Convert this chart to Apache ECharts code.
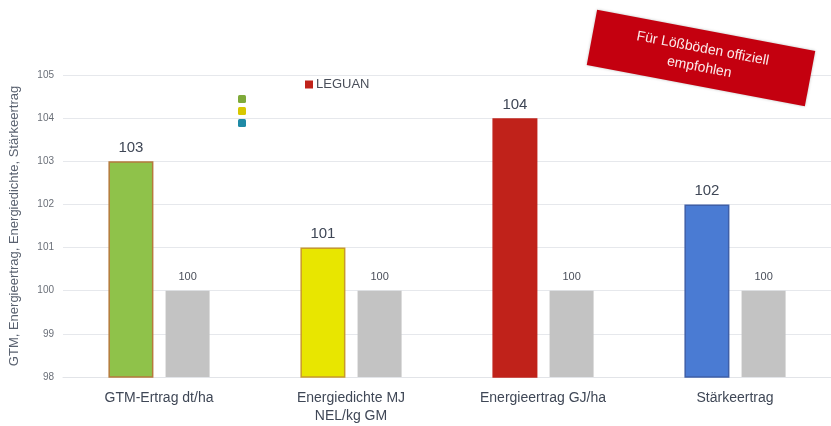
<!DOCTYPE html>
<html>
<head>
<meta charset="utf-8">
<script src="https://cdn.jsdelivr.net/npm/echarts@6/dist/echarts.min.js"></script>
<style>
html,body{margin:0;padding:0;background:#fff;}
#chart{width:831px;height:426px;}
</style>
</head>
<body>
<div id="chart"></div>
<script>
const categories = ['GTM-Ertrag dt/ha', 'Energiedichte MJ\nNEL/kg GM', 'Energieertrag GJ/ha', 'Stärkeertrag'];
const leguanValues = [103, 101, 104, 102];
const referenceValues = [100, 100, 100, 100];
const yTicks = { min: 98, max: 105, interval: 1 };
const seriesName = 'LEGUAN';
const yAxisTitle = 'GTM, Energieertrag, Energiedichte, Stärkeertrag';
const stampText = 'Für Lößböden offiziell\nempfohlen';

const barColors = ['#8fc24a', '#e8e600', '#c0221a', '#4a7bd3'];
const barBorders = ['#b57a3c', '#c89a2a', '#c0221a', '#3e5fa8'];

const chart = echarts.init(document.getElementById('chart'));
chart.setOption({
  animation: false,
  backgroundColor: '#ffffff',
  grid: { left: 62, top: 75, width: 780, bottom: 49, containLabel: false },
  legend: {
    data: [{ name: seriesName, itemStyle: { color: '#c0221a' } }],
    left: 300, top: 73,
    itemWidth: 8, itemHeight: 8, itemGap: 4,
    icon: 'rect',
    textStyle: { color: '#4a4f5a', fontSize: 13, fontFamily: 'Liberation Sans, Arial, sans-serif', padding: [0, 0, 0, -2] }
  },
  xAxis: {
    type: 'category',
    data: categories,
    axisLine: { show: true, lineStyle: { color: '#e2e4e8' } },
    axisTick: { show: false },
    axisLabel: { color: '#3f4756', fontSize: 14, lineHeight: 18, margin: 12, fontFamily: 'Liberation Sans, Arial, sans-serif' }
  },
  yAxis: {
    type: 'value',
    min: yTicks.min, max: yTicks.max, interval: yTicks.interval,
    name: yAxisTitle,
    nameLocation: 'middle',
    nameGap: 42,
    nameTextStyle: { color: '#5a6270', fontSize: 13, letterSpacing: 1.2, fontFamily: 'Liberation Sans, Arial, sans-serif' },
    axisLine: { show: false },
    axisTick: { show: false },
    axisLabel: { color: '#6a6f78', fontSize: 10, margin: 9, fontFamily: 'Liberation Sans, Arial, sans-serif' },
    splitLine: { lineStyle: { color: '#e6e8ec', width: 1 } }
  },
  series: [
    {
      name: seriesName,
      type: 'bar',
      barWidth: 45,
      barGap: '27%',
      barCategoryGap: '48%',
      data: leguanValues.map((v, i) => ({
        value: v,
        itemStyle: { color: barColors[i], borderColor: barBorders[i], borderWidth: 1.5 }
      })),
      label: { show: true, position: 'top', distance: 6, color: '#3f4756', fontSize: 15, fontFamily: 'Liberation Sans, Arial, sans-serif' }
    },
    {
      name: 'Referenz',
      type: 'bar',
      barWidth: 44,
      data: referenceValues,
      itemStyle: { color: '#c3c3c3' },
      label: { show: true, position: 'top', distance: 8, color: '#4a4f5a', fontSize: 11, fontFamily: 'Liberation Sans, Arial, sans-serif' }
    }
  ],
  graphic: [
    { type: 'rect', left: 238, top: 95, z: 100, shape: { width: 8, height: 8, r: 1.5 }, style: { fill: '#7faa3a' } },
    { type: 'rect', left: 238, top: 107, z: 100, shape: { width: 8, height: 8, r: 1.5 }, style: { fill: '#d8c800' } },
    { type: 'rect', left: 238, top: 119, z: 100, shape: { width: 8, height: 8, r: 1.5 }, style: { fill: '#1f8aa6' } },
    {
      type: 'group',
      x: 701, y: 58,
      z: 100,
      rotation: -0.187,
      children: [
        { type: 'rect', z: 100, shape: { x: -111, y: -28, width: 222, height: 56 }, style: { fill: '#c4000f', shadowBlur: 3, shadowColor: 'rgba(0,0,0,0.25)' } },
        { type: 'text', z: 101, x: 0, y: 0, style: { text: stampText, fill: '#fbeaea', fontSize: 14, lineHeight: 19, fontFamily: 'Liberation Sans, Arial, sans-serif', align: 'center', verticalAlign: 'middle' } }
      ]
    }
  ]
});
</script>
</body>
</html>
